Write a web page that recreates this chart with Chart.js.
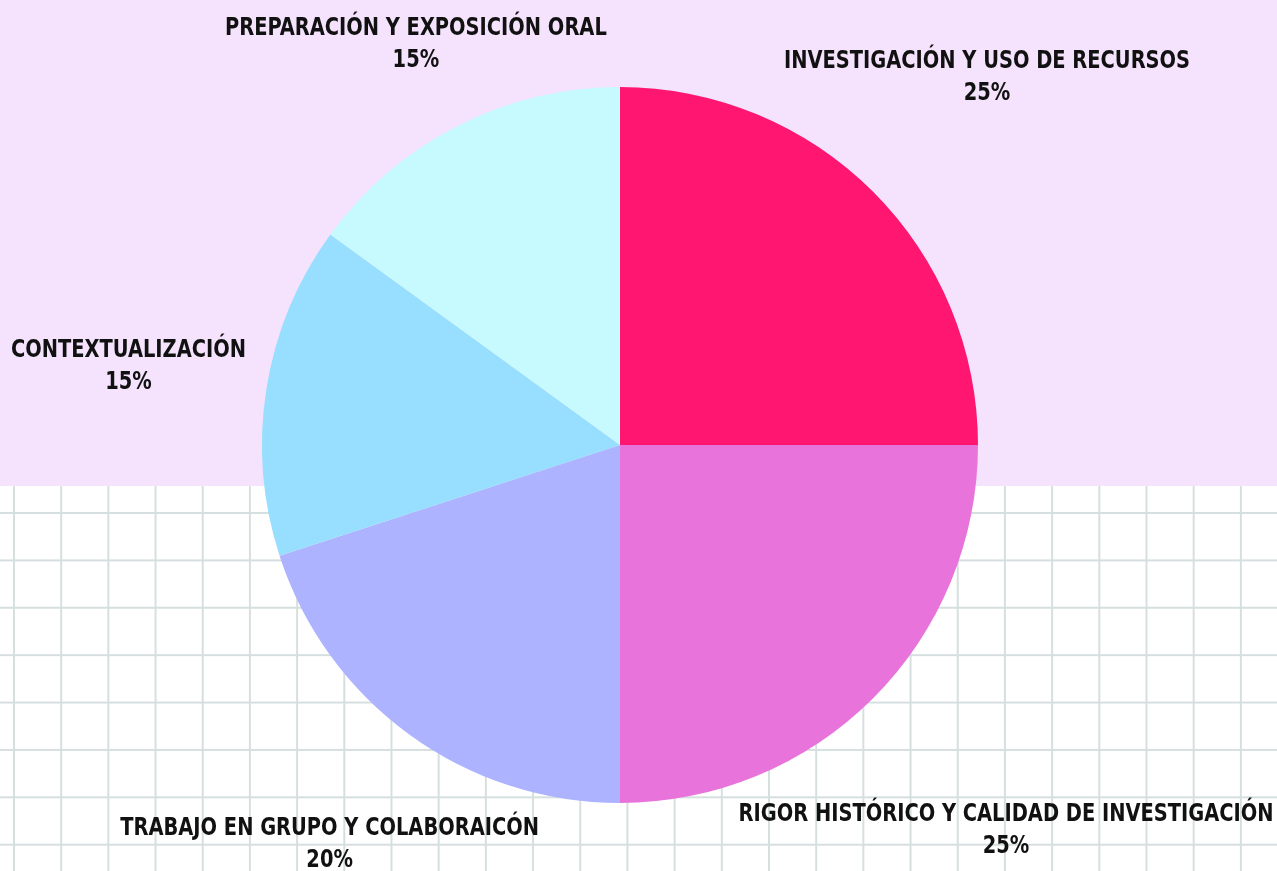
<!DOCTYPE html>
<html>
<head>
<meta charset="utf-8">
<script src="https://cdn.jsdelivr.net/npm/chart.js@4.4.1/dist/chart.umd.min.js"></script>
<style>
  html, body { margin: 0; padding: 0; }
  #wrap {
    position: relative;
    width: 1277px;
    height: 871px;
    overflow: hidden;
    background-color: #ffffff;
    background-image:
      linear-gradient(to right, #d6dfdf 2px, transparent 2px),
      linear-gradient(to bottom, #d6dfdf 2px, transparent 2px);
    background-size: 47.2px 47.4px;
    background-position: 13px 512px;
  }
  #top {
    position: absolute;
    left: 0; top: 0;
    width: 1277px; height: 486px;
    background: #f5e3fe;
  }
  #chart { position: absolute; left: 0; top: 0; }
</style>
</head>
<body>
<div id="wrap">
  <div id="top"></div>
  <canvas id="chart" width="1277" height="871"></canvas>
</div>
<script>
// datos del gráfico
const categorias = [
    'INVESTIGACIÓN Y USO DE RECURSOS',
    'RIGOR HISTÓRICO Y CALIDAD DE INVESTIGACIÓN',
    'TRABAJO EN GRUPO Y COLABORAICÓN',
    'CONTEXTUALIZACIÓN',
    'PREPARACIÓN Y EXPOSICIÓN ORAL'
];
const porcentajes = [25, 25, 20, 15, 15];
const colores = ['#ff1670', '#e874db', '#adb3ff', '#97deff', '#c6faff'];

// distancia de cada etiqueta al centro (en radios)
const distEtiqueta = [1.45, 1.525, 1.38, 1.39, 1.256];

const etiquetasPlugin = {
    id: 'etiquetas',
    afterDatasetsDraw(chart) {
        const ctx = chart.ctx;
        const arcs = chart.getDatasetMeta(0).data;
        const escalaX = 0.9; // letra más estrecha
        ctx.save();
        ctx.fillStyle = '#111111';
        ctx.textAlign = 'center';
        ctx.textBaseline = 'middle';
        ctx.font = 'bold 24px "DejaVu Sans Condensed", "DejaVu Sans", sans-serif';
        arcs.forEach((arc, i) => {
            const mid = (arc.startAngle + arc.endAngle) / 2;
            const d = arc.outerRadius * distEtiqueta[i];
            const x = arc.x + Math.cos(mid) * d;
            const y = arc.y + Math.sin(mid) * d;
            ctx.save();
            ctx.translate(x, y);
            ctx.scale(escalaX, 1);
            ctx.fillText(categorias[i], 0, -16);
            ctx.fillText(porcentajes[i] + '%', 0, 16);
            ctx.restore();
        });
        ctx.restore();
    }
};

const ctx = document.getElementById('chart').getContext('2d');
const pieChart = new Chart(ctx, {
    type: 'pie',
    data: {
        labels: categorias,
        datasets: [{
            data: porcentajes,
            backgroundColor: colores,
            borderWidth: 0
        }]
    },
    options: {
        responsive: false,
        animation: false,
        layout: {
            padding: { top: 87, bottom: 68, left: 0, right: 37 }
        },
        plugins: {
            legend: { display: false },
            tooltip: { enabled: false }
        }
    },
    plugins: [etiquetasPlugin]
});
</script>
</body>
</html>
